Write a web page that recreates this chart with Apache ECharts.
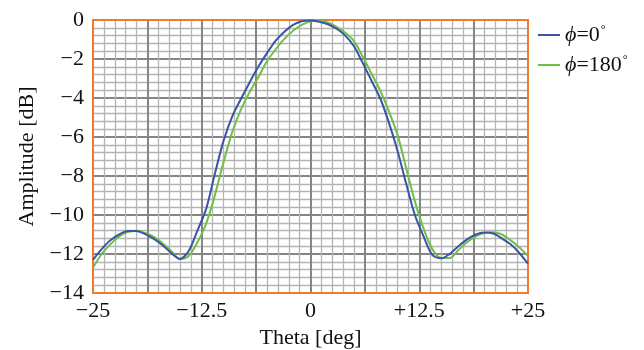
<!DOCTYPE html>
<html>
<head>
<meta charset="utf-8">
<script src="https://cdn.jsdelivr.net/npm/echarts@6/dist/echarts.min.js"></script>
<style>html,body{margin:0;padding:0;background:#fff;}#c{width:644px;height:350px;}</style>
</head>
<body>
<div id="c"></div>
<script>
const theta = [-25,-24,-23,-22,-21,-20,-19,-18,-17,-16,-15,-14,-13,-12,-11,-10,-9,-8,-7,-6,-5,-4,-3,-2,-1,0,1,2,3,4,5,6,7,8,9,10,11,12,13,14,15,16,17,18,19,20,21,22,23,24,25];
const phi0 = [-12.3,-11.75,-11.3,-11.0,-10.82,-10.82,-10.98,-11.22,-11.55,-11.95,-12.25,-11.85,-10.8,-9.7,-7.9,-6.2,-4.95,-4.05,-3.2,-2.4,-1.7,-1.06,-0.6,-0.25,-0.06,-0.02,-0.09,-0.22,-0.45,-0.8,-1.35,-2.2,-3.1,-4.0,-5.25,-6.7,-8.4,-10.0,-11.1,-12.05,-12.22,-12.0,-11.6,-11.25,-11.0,-10.9,-10.95,-11.2,-11.5,-11.95,-12.5];
const phi180 = [-12.7,-12.0,-11.5,-11.1,-10.88,-10.82,-10.92,-11.12,-11.45,-11.85,-12.25,-12.1,-11.4,-10.45,-9.0,-7.3,-5.75,-4.6,-3.7,-2.93,-2.12,-1.5,-0.97,-0.55,-0.25,-0.07,-0.01,-0.12,-0.35,-0.65,-1.08,-1.88,-2.74,-3.61,-4.67,-5.88,-7.6,-9.3,-10.7,-11.75,-12.2,-12.2,-11.8,-11.4,-11.1,-10.92,-10.88,-11.0,-11.3,-11.65,-12.1];
const seriesNames = ['phi0', 'phi180'];
const xTickLabels = {'-25':'\u221225','-12.5':'\u221212.5','0':'0','12.5':'+12.5','25':'+25'};

const font = 'Liberation Serif';
const chart = echarts.init(document.getElementById('c'), null, {renderer:'canvas'});
const richLeg = {
  p:{fontFamily:font, fontStyle:'italic', fontSize:22, color:'#111'},
  t:{fontFamily:font, fontSize:22, color:'#111'},
  d:{fontFamily:font, fontSize:12, color:'#111', verticalAlign:'top', padding:[0,0,10,1]}
};
chart.setOption({
  animation:false,
  backgroundColor:'#fff',
  grid:{left:93, right:116, top:20, bottom:57, show:true, borderColor:'#f07a30', borderWidth:2, backgroundColor:'transparent', z:3, containLabel:false, outerBoundsMode:'none'},
  legend:{
    orient:'vertical', left:533, top:19, itemGap:8,
    icon:'rect', itemWidth:22, itemHeight:2,
    data:seriesNames,
    formatter:function(n){ return n==='phi0' ? '{p|\u03d5}{t|=0}{d|\u00b0}' : '{p|\u03d5}{t|=180}{d|\u00b0}'; },
    textStyle:{rich:richLeg, fontSize:22, fontFamily:font}
  },
  xAxis:{
    type:'value', min:-25, max:25, interval:6.25,
    name:'Theta [deg]', nameLocation:'middle', nameGap:34,
    nameTextStyle:{fontFamily:font, fontSize:22, color:'#111'},
    axisLine:{show:false}, axisTick:{show:false},
    axisLabel:{margin:7, fontFamily:font, fontSize:22, color:'#111',
      formatter:function(v){ const k=String(v); return xTickLabels[k]!==undefined ? xTickLabels[k] : ''; }},
    splitLine:{show:true, lineStyle:{color:'#858585', width:2}},
    minorTick:{show:false, splitNumber:5},
    minorSplitLine:{show:true, lineStyle:{color:'#b4b4b4', width:1.3}}
  },
  yAxis:{
    type:'value', min:-14, max:0, interval:2,
    name:'Amplitude [dB]', nameLocation:'middle', nameGap:53,
    nameTextStyle:{fontFamily:font, fontSize:22, color:'#111'},
    axisLine:{show:false}, axisTick:{show:false},
    axisLabel:{margin:9, fontFamily:font, fontSize:22, color:'#111',
      formatter:function(v){ return String(v).replace('-', '\u2212'); }},
    splitLine:{show:true, lineStyle:{color:'#858585', width:2}},
    minorTick:{show:false, splitNumber:5},
    minorSplitLine:{show:true, lineStyle:{color:'#b4b4b4', width:1.3}}
  },
  series:[
    {name:'phi0', type:'line', data:theta.map((t,i)=>[t,phi0[i]]), showSymbol:false, smooth:0.3,
     lineStyle:{color:'#3a54a6', width:2}, itemStyle:{color:'#3a54a6'}, z:5},
    {name:'phi180', type:'line', data:theta.map((t,i)=>[t,phi180[i]]), showSymbol:false, smooth:0.3,
     lineStyle:{color:'#6fc044', width:2}, itemStyle:{color:'#6fc044'}, z:4}
  ]
});
</script>
</body>
</html>
